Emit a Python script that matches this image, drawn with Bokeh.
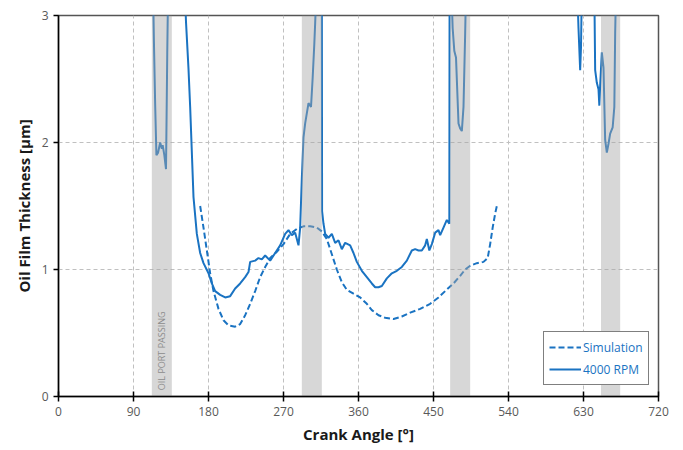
import math
from bokeh.plotting import figure
from bokeh.models import Range1d, FixedTicker, ColumnDataSource
from bokeh.core.properties import value
from bokeh.embed import file_html
from bokeh.resources import INLINE

nan = float("nan")

# Simulation (dashed)
sim_deg = [170, 174, 178, 182, 186, 192, 198, 204, 212, 218, 224, 230, 236, 242, 248, 254, 262, 270,
           278, 286, 294, 302, 310, 316, 322, 328, 334, 340, 346, 354, 362, 370, 376, 384, 392, 402,
           412, 422, 434, 446, 456, 464, 474, 482, 488, 494, 502, 510, 515, 518, 521, 524, 526]
sim_um = [1.50, 1.33, 1.15, 0.97, 0.83, 0.69, 0.60, 0.56, 0.55, 0.57, 0.64, 0.73, 0.83, 0.94, 1.02, 1.09, 1.14, 1.20,
          1.28, 1.32, 1.34, 1.34, 1.33, 1.30, 1.24, 1.12, 1.00, 0.90, 0.84, 0.81, 0.78, 0.73, 0.68, 0.64, 0.62, 0.61,
          0.63, 0.66, 0.69, 0.73, 0.78, 0.83, 0.89, 0.95, 1.00, 1.03, 1.05, 1.06, 1.09, 1.20, 1.33, 1.44, 1.50]

# Measurement 4000 RPM (solid); NaN separates segments that leave the top of the chart
rpm_deg = [113.5, 114.5, 116, 117.5, 119.5, 122, 124, 125, 127, 129, 129.7, 130.5, 131.5, nan,
           151.5, 153, 156, 158, 162, 166, 170, 174, 180, 184, 188, 194, 200, 206, 212, 218, 224, 228,
           230, 236, 240, 244, 248, 254, 260, 266, 272, 276, 280, 284, 288, 290, 292, 294, 296, 300,
           303, 305, 307, 308, 309.5, nan,
           316, 316.3, 318, 320, 324, 328, 332, 336, 340, 344, 350, 354, 358, 364, 370, 376, 380, 384,
           388, 394, 400, 406, 412, 418, 424, 428, 432, 436, 440, 442, 445, 448, 452, 456, 458, 462,
           466, 469, 469.3, 471.5, 473, 475, 477, 480, 482, 484, 486, 488, 489, nan,
           622.5, 624, 626, 627, 628, nan,
           643, 644, 646, 648, 649, 650, 652, 654, 656, 658, 660, 662, 665, 667, 668, 669]
rpm_um = [3.2, 2.8, 2.3, 1.90, 1.92, 2.00, 1.95, 1.98, 1.90, 1.79, 2.2, 2.7, 3.2, nan,
          3.2, 2.95, 2.58, 2.28, 1.57, 1.28, 1.13, 1.05, 0.97, 0.89, 0.83, 0.80, 0.78, 0.79, 0.85, 0.89, 0.94, 0.98,
          1.06, 1.07, 1.09, 1.08, 1.11, 1.07, 1.13, 1.19, 1.28, 1.31, 1.27, 1.29, 1.19, 1.33, 1.72, 2.04, 2.15, 2.31,
          2.28, 2.51, 2.78, 2.94, 3.2, nan,
          3.2, 1.46, 1.36, 1.28, 1.25, 1.28, 1.21, 1.23, 1.16, 1.21, 1.19, 1.13, 1.06, 0.99, 0.94, 0.89, 0.86, 0.86,
          0.87, 0.93, 0.97, 0.99, 1.02, 1.07, 1.15, 1.16, 1.15, 1.15, 1.19, 1.24, 1.15, 1.20, 1.29, 1.31, 1.27, 1.33,
          1.39, 1.36, 3.2, 3.2, 2.9, 2.72, 2.67, 2.15, 2.11, 2.09, 2.28, 2.86, 3.2, nan,
          3.2, 2.9, 2.57, 2.75, 3.2, nan,
          3.2, 2.57, 2.47, 2.42, 2.29, 2.45, 2.71, 2.59, 2.02, 1.92, 1.99, 2.07, 2.12, 2.28, 2.86, 3.2]

# Oil port passing bands
band_start = [112, 292, 470, 651]
band_end = [136, 316, 494, 674]

x_ticks = [0, 90, 180, 270, 360, 450, 540, 630, 720]
y_ticks = [0, 1, 2, 3]

BLUE = "#1a73c2"
FONT = "Open Sans"

p = figure(frame_width=600, frame_height=381, width=683, height=450,
           min_border_left=58, min_border_right=25, min_border_top=15, min_border_bottom=54,
           x_range=Range1d(0, 720), y_range=Range1d(0, 3),
           output_backend="svg", toolbar_location=None)

p.line(sim_deg, sim_um, line_color=BLUE, line_width=2, line_dash="6 3", legend_label="Simulation")
p.line(rpm_deg, rpm_um, line_color=BLUE, line_width=2, legend_label="4000 RPM")

p.quad(left=band_start, right=band_end, bottom=0, top=3,
       fill_color="#a6a6a6", fill_alpha=0.45, line_color=None)

p.text(x=[124], y=[0.05], text=["OIL PORT PASSING"], angle=math.pi / 2,
       text_font=value(FONT), text_font_size="9px", text_color="#8c8c8c",
       text_align="left", text_baseline="middle")

p.xaxis.ticker = FixedTicker(ticks=x_ticks)
p.yaxis.ticker = FixedTicker(ticks=y_ticks)
for ax in (p.xaxis, p.yaxis):
    ax.major_label_text_font = FONT
    ax.major_label_text_font_size = "12px"
    ax.major_label_text_color = "#595959"
    ax.axis_label_text_font = FONT
    ax.axis_label_text_font_size = "15px"
    ax.axis_label_text_font_style = "bold"
    ax.axis_label_text_color = "#1a1a1a"
    ax.axis_line_color = "black"
    ax.axis_line_width = 1.5
    ax.major_tick_line_color = "black"
    ax.major_tick_line_width = 1.5
    ax.minor_tick_line_color = None
p.xaxis.axis_label = "Crank Angle [°]"
p.yaxis.axis_label = "Oil Film Thickness [µm]"
p.xaxis.major_tick_in = 5
p.xaxis.major_tick_out = 5
p.yaxis.major_tick_in = 0
p.yaxis.major_tick_out = 5

p.xgrid.grid_line_color = "#c0c0c0"
p.xgrid.grid_line_dash = "4 3"
p.ygrid.grid_line_color = "#c0c0c0"
p.ygrid.grid_line_dash = "4 3"

p.outline_line_color = "#555555"
p.outline_line_width = 1.5

p.legend.location = (485, 11)
p.legend.border_line_color = "black"
p.legend.border_line_width = 1
p.legend.background_fill_color = "white"
p.legend.background_fill_alpha = 1
p.legend.label_text_color = BLUE
p.legend.label_text_font = FONT
p.legend.label_text_font_size = "12px"
p.legend.glyph_width = 32
p.legend.label_standoff = 2
p.legend.padding = 5
p.legend.spacing = 2
p.legend.margin = 0

open("out.html", "w").write(file_html(p, INLINE))
